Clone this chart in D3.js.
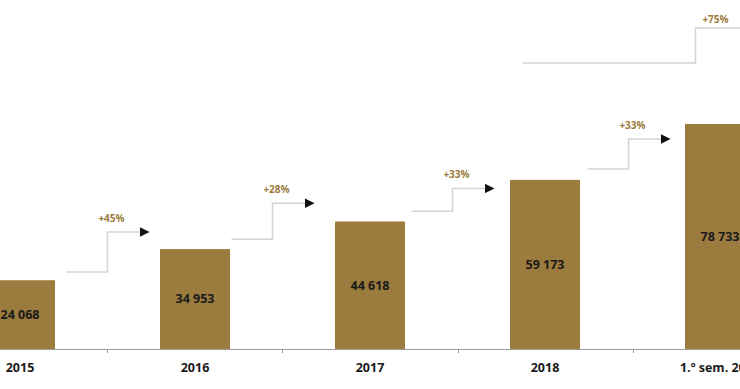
<!DOCTYPE html>
<html>
<head>
<meta charset="utf-8">
<script src="https://cdn.jsdelivr.net/npm/d3@7"></script>
<style>
  body { margin: 0; background: #fff; }
  svg { display: block; font-family: 'Open Sans', sans-serif; }
</style>
</head>
<body>
<svg id="chart" width="740" height="389"></svg>
<script>
var categories = ['2015', '2016', '2017', '2018', '1.º sem. 2019']
var values = [24068, 34953, 44618, 59173, 78733]
var valueLabels = ['24 068', '34 953', '44 618', '59 173', '78 733']

// step arrows between consecutive bars
var growthLabels = ['+45%', '+28%', '+33%', '+33%']
var arrowLow = [26900, 38400, 48200, 63000]
var arrowHigh = [40900, 51000, 56200, 73500]
var arrowShift = [0, -10, -5, -4]

// overall growth arrow
var totalLabel = '+75%'
var totalLow = 100100
var totalHigh = 112300

var svg = d3.select('#chart')
var width = +svg.attr('width')
var height = +svg.attr('height')
var baseY = 349
var gold = '#9b7b3e'

var x = d3.scaleBand()
    .domain(categories)
    .range([-67.5, 807.5])
    .paddingInner(0.6)
    .paddingOuter(0.3)

var y = d3.scaleLinear()
    .domain([0, 100000])
    .range([baseY, baseY - 285.8])

var step = x.step()
var bw = x.bandwidth()

// bars
svg.append('g')
  .selectAll('rect')
  .data(values)
  .enter().append('rect')
    .attr('x', function (d, i) { return x(categories[i]) })
    .attr('y', function (d) { return y(d) })
    .attr('width', bw)
    .attr('height', function (d) { return baseY - y(d) })
    .attr('fill', gold)

// value labels
svg.append('g')
  .selectAll('text')
  .data(values)
  .enter().append('text')
    .attr('x', function (d, i) { return x(categories[i]) + bw / 2 })
    .attr('y', function (d) { return (y(d) + baseY) / 2 })
    .attr('dy', '0.35em')
    .attr('text-anchor', 'middle')
    .attr('font-size', 12.5)
    .attr('font-weight', 700)
    .attr('fill', '#1a1a1a')
    .text(function (d, i) { return valueLabels[i] })

// baseline + ticks between categories
svg.append('line')
    .attr('x1', 0).attr('x2', width)
    .attr('y1', baseY + 0.5).attr('y2', baseY + 0.5)
    .attr('stroke', '#9a9a9a')

svg.append('g')
  .selectAll('line')
  .data(categories.slice(1))
  .enter().append('line')
    .attr('x1', function (d) { return Math.round(x(d) + bw / 2 - step / 2) + 0.5 })
    .attr('x2', function (d) { return Math.round(x(d) + bw / 2 - step / 2) + 0.5 })
    .attr('y1', baseY)
    .attr('y2', baseY + 4)
    .attr('stroke', '#9a9a9a')

// category labels
svg.append('g')
  .selectAll('text')
  .data(categories)
  .enter().append('text')
    .attr('x', function (d) { return x(d) + bw / 2 })
    .attr('y', 368)
    .attr('dy', '0.35em')
    .attr('text-anchor', 'middle')
    .attr('font-size', 12.5)
    .attr('font-weight', 700)
    .attr('fill', '#1a1a1a')
    .text(function (d) { return d })

svg.append('defs').append('marker')
    .attr('id', 'tip')
    .attr('viewBox', '0 0 10 10')
    .attr('refX', 9).attr('refY', 5)
    .attr('markerWidth', 10).attr('markerHeight', 10)
    .attr('markerUnits', 'userSpaceOnUse')
    .attr('orient', 'auto')
  .append('path')
    .attr('d', 'M0,0 L10,5 L0,10 Z')
    .attr('fill', '#111')

// growth step arrows
var arrows = svg.append('g')
growthLabels.forEach(function (label, i) {
  var vx = x(categories[i + 1]) + bw / 2 - step / 2 + arrowShift[i]
  var lo = y(arrowLow[i])
  var hi = y(arrowHigh[i])
  arrows.append('path')
      .attr('d', 'M' + (vx - 41) + ',' + lo + 'H' + vx + 'V' + hi + 'H' + (vx + 41))
      .attr('fill', 'none')
      .attr('stroke', '#d4d4d4')
      .attr('stroke-width', 1.5)
      .attr('marker-end', 'url(#tip)')
  arrows.append('text')
      .attr('x', vx + 4)
      .attr('y', hi - 10)
      .attr('text-anchor', 'middle')
      .attr('font-size', 10)
      .attr('font-weight', 700)
      .attr('fill', gold)
      .text(label)
})

// overall arrow
var tx = x(categories[4]) + bw / 2 - step / 2 + 63
arrows.append('path')
    .attr('d', 'M' + (tx - 173) + ',' + y(totalLow) + 'H' + tx + 'V' + y(totalHigh) + 'H' + (width + 10))
    .attr('fill', 'none')
    .attr('stroke', '#d4d4d4')
    .attr('stroke-width', 1.5)
arrows.append('text')
    .attr('x', tx + 20)
    .attr('y', y(totalHigh) - 5)
    .attr('text-anchor', 'middle')
    .attr('font-size', 10)
    .attr('font-weight', 700)
    .attr('fill', gold)
    .text(totalLabel)
</script>
</body>
</html>
